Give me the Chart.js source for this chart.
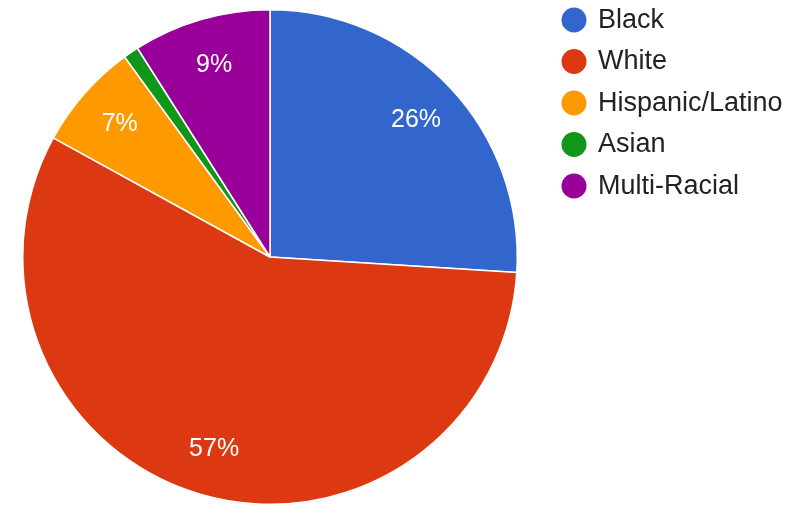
<!DOCTYPE html>
<html>
<head>
<meta charset="utf-8">
<script src="https://cdn.jsdelivr.net/npm/chart.js@4/dist/chart.umd.min.js"></script>
<style>
  html, body { margin: 0; padding: 0; background: #fff; }
  #wrap { width: 791px; height: 505px; position: relative; }
</style>
</head>
<body>
<div id="wrap"><canvas id="c" width="791" height="505"></canvas></div>
<script>
const categories = ['Black', 'White', 'Hispanic/Latino', 'Asian', 'Multi-Racial'];
const shares = [26, 57, 7, 1, 9];
const colors = ['#3366cc', '#dc3912', '#ff9900', '#109618', '#990099'];

const FONT = '"Liberation Sans", Arial, sans-serif';

// Percentage labels inside each slice, placed at ~81% of the radius
const sliceLabels = {
  id: 'sliceLabels',
  afterDatasetsDraw(chart) {
    const ctx = chart.ctx;
    const meta = chart.getDatasetMeta(0);
    const data = chart.data.datasets[0].data;
    const total = data.reduce((a, b) => a + b, 0);
    ctx.save();
    ctx.fillStyle = '#ffffff';
    ctx.font = '25px ' + FONT;
    ctx.textAlign = 'center';
    ctx.textBaseline = 'middle';
    meta.data.forEach((arc, i) => {
      const pct = Math.round(data[i] / total * 100);
      if (pct < 5) return;
      const p = arc.getProps(['x', 'y', 'startAngle', 'endAngle', 'outerRadius'], true);
      const mid = (p.startAngle + p.endAngle) / 2;
      const r = p.outerRadius * 0.81;
      ctx.fillText(pct + '%', p.x + Math.cos(mid) * r, p.y + Math.sin(mid) * r);
    });
    ctx.restore();
  }
};

// Legend column on the right: coloured dot and category name
const sideLegend = {
  id: 'sideLegend',
  afterDraw(chart) {
    const ctx = chart.ctx;
    const labels = chart.data.labels;
    const bg = chart.data.datasets[0].backgroundColor;
    ctx.save();
    ctx.font = '27px ' + FONT;
    ctx.textBaseline = 'alphabetic';
    ctx.textAlign = 'left';
    labels.forEach((lab, i) => {
      const y = 20 + i * 41.5;
      ctx.beginPath();
      ctx.arc(574, y, 12.5, 0, Math.PI * 2);
      ctx.fillStyle = bg[i];
      ctx.fill();
      ctx.fillStyle = '#222222';
      ctx.fillText(lab, 598, y + 7.5);
    });
    ctx.restore();
  }
};

new Chart(document.getElementById('c'), {
  type: 'pie',
  data: {
    labels: categories,
    datasets: [{
      data: shares,
      backgroundColor: colors,
      borderColor: '#ffffff',
      borderWidth: 1.5
    }]
  },
  options: {
    responsive: false,
    animation: false,
    layout: { padding: { left: 22, top: 9, right: 273, bottom: 0 } },
    plugins: {
      legend: { display: false },
      tooltip: { enabled: false }
    }
  },
  plugins: [sliceLabels, sideLegend]
});
</script>
</body>
</html>
